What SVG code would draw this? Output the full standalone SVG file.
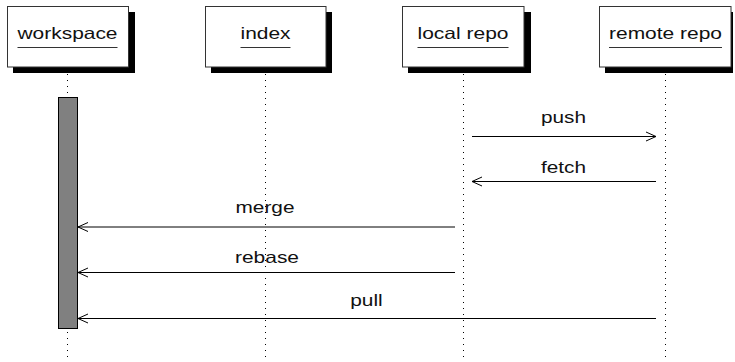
<svg xmlns="http://www.w3.org/2000/svg" width="735" height="362" viewBox="0 0 735 362">
<defs>
<style>
.box{fill:#fff;stroke:#333;stroke-width:1}
.shadow{fill:#000}
.t{font-family:"Liberation Sans",Arial,sans-serif;font-size:16.5px;fill:#111;text-anchor:middle}
.ul{stroke:#333;stroke-width:1.2}
.life{stroke:#000;stroke-width:1;stroke-dasharray:1 5}
.msg{stroke:#000;stroke-width:1;fill:none}
.act{fill:#808080;stroke:#000;stroke-width:1}
</style>
<marker id="arr" markerWidth="12" markerHeight="12" refX="10" refY="5" orient="auto" markerUnits="userSpaceOnUse" viewBox="0 0 12 10">
<path d="M0,0.5 L10,5 L0,9.5" fill="none" stroke="#000" stroke-width="1"/>
</marker>
</defs>
<g id="lifelines">
<line class="life" x1="67.5" y1="74" x2="67.5" y2="362"/>
<line class="life" x1="265.5" y1="74" x2="265.5" y2="362"/>
<line class="life" x1="463.5" y1="74" x2="463.5" y2="362"/>
<line class="life" x1="665.5" y1="74" x2="665.5" y2="362"/>
</g>
<g id="workspace">
<rect class="shadow" x="13" y="12" width="122" height="61"/>
<rect class="box" x="7.5" y="6.5" width="121" height="60.5"/>
<text class="t" x="67.5" y="38.5" textLength="100" lengthAdjust="spacingAndGlyphs">workspace</text>
<line class="ul" x1="17.5" y1="47.5" x2="117.5" y2="47.5"/>
</g>
<g id="index">
<rect class="shadow" x="211" y="12" width="121" height="61"/>
<rect class="box" x="205.5" y="6.5" width="120.5" height="60.5"/>
<text class="t" x="265.5" y="38.5" textLength="50" lengthAdjust="spacingAndGlyphs">index</text>
<line class="ul" x1="240.5" y1="47.5" x2="290.5" y2="47.5"/>
</g>
<g id="local_repo">
<rect class="shadow" x="408" y="12" width="123" height="61"/>
<rect class="box" x="402.5" y="6.5" width="121.5" height="60.5"/>
<text class="t" x="463" y="38.5" textLength="91" lengthAdjust="spacingAndGlyphs">local repo</text>
<line class="ul" x1="417.5" y1="47.5" x2="508.5" y2="47.5"/>
</g>
<g id="remote_repo">
<rect class="shadow" x="605" y="12" width="128" height="61"/>
<rect class="box" x="599.5" y="6.5" width="131.5" height="60.5"/>
<text class="t" x="665.5" y="38.5" textLength="113" lengthAdjust="spacingAndGlyphs">remote repo</text>
<line class="ul" x1="609" y1="47.5" x2="722" y2="47.5"/>
</g>
<g id="activation">
<rect class="act" x="58.5" y="97.5" width="19" height="231"/>
</g>
<g id="connectors">
<line class="msg" x1="472" y1="136.5" x2="656" y2="136.5" marker-end="url(#arr)"/>
<text class="t" x="563.5" y="122.5" textLength="45" lengthAdjust="spacingAndGlyphs">push</text>
<line class="msg" x1="656" y1="181.5" x2="472" y2="181.5" marker-end="url(#arr)"/>
<text class="t" x="563.5" y="172.5" textLength="45" lengthAdjust="spacingAndGlyphs">fetch</text>
<line class="msg" x1="455" y1="227" x2="78" y2="227" marker-end="url(#arr)"/>
<text class="t" x="265" y="213" textLength="59" lengthAdjust="spacingAndGlyphs">merge</text>
<line class="msg" x1="455" y1="272.5" x2="78" y2="272.5" marker-end="url(#arr)"/>
<text class="t" x="267" y="263" textLength="64" lengthAdjust="spacingAndGlyphs">rebase</text>
<line class="msg" x1="656" y1="318.5" x2="78" y2="318.5" marker-end="url(#arr)"/>
<text class="t" x="366.5" y="306" textLength="32.5" lengthAdjust="spacingAndGlyphs">pull</text>
</g>
</svg>
